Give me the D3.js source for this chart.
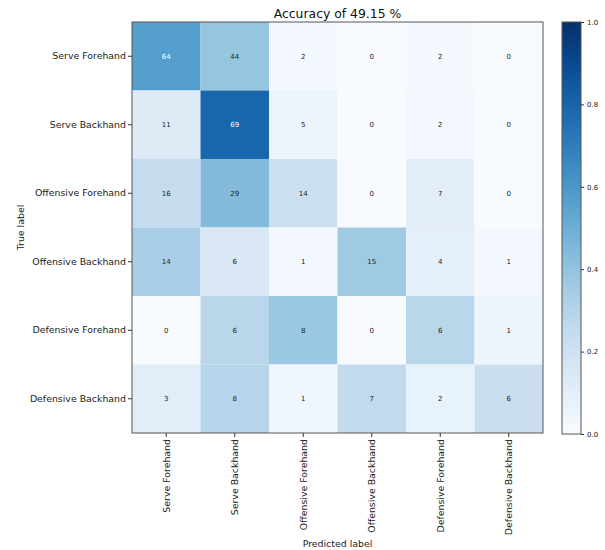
<!DOCTYPE html>
<html>
<head>
<meta charset="utf-8">
<script src="https://cdn.jsdelivr.net/npm/d3@7"></script>
<style>
  body { margin: 0; background: #fff; }
  text { font-family: 'DejaVu Sans', sans-serif; }
</style>
</head>
<body>
<script>
// class names, same for rows (true) and columns (predicted)
var classes = ['Serve Forehand', 'Serve Backhand', 'Offensive Forehand',
               'Offensive Backhand', 'Defensive Forehand', 'Defensive Backhand'];

// confusion matrix counts, one array per true label
var rowServeFh  = [64, 44, 2, 0, 2, 0];
var rowServeBh  = [11, 69, 5, 0, 2, 0];
var rowOffFh    = [16, 29, 14, 0, 7, 0];
var rowOffBh    = [14, 6, 1, 15, 4, 1];
var rowDefFh    = [0, 6, 8, 0, 6, 1];
var rowDefBh    = [3, 8, 1, 7, 2, 6];
var counts = [rowServeFh, rowServeBh, rowOffFh, rowOffBh, rowDefFh, rowDefBh];

var colorbarTicks = [0, 0.2, 0.4, 0.6, 0.8, 1.0];

var width = 605, height = 550;
var margin = {left: 132, top: 22, right: 62, bottom: 117};
var size = 411;

var svg = d3.select('body').append('svg')
    .attr('width', width)
    .attr('height', height);

// accuracy from the diagonal
var total = d3.sum(counts, function(r) { return d3.sum(r); });
var diag = d3.sum(counts, function(r, i) { return r[i]; });
var acc = (100 * diag / total).toFixed(2);

// flatten into cells, normalised per row
var cells = [];
counts.forEach(function(r, i) {
    var s = d3.sum(r);
    r.forEach(function(v, j) {
        cells.push({row: i, col: j, value: v, norm: v / s});
    });
});

var x = d3.scaleBand().domain(d3.range(classes.length)).range([0, size]);
var y = d3.scaleBand().domain(d3.range(classes.length)).range([0, size]);
var color = d3.scaleSequential(d3.interpolateBlues).domain([0, 1]);

var focus = svg.append('g')
    .attr('transform', 'translate(' + margin.left + ',' + margin.top + ')');

focus.selectAll('rect.cell')
    .data(cells)
    .enter().append('rect')
    .attr('class', 'cell')
    .attr('x', function(d) { return x(d.col); })
    .attr('y', function(d) { return y(d.row); })
    .attr('width', x.bandwidth())
    .attr('height', y.bandwidth())
    .attr('fill', function(d) { return color(d.norm); });

focus.selectAll('text.val')
    .data(cells)
    .enter().append('text')
    .attr('class', 'val')
    .attr('x', function(d) { return x(d.col) + x.bandwidth() / 2; })
    .attr('y', function(d) { return y(d.row) + y.bandwidth() / 2; })
    .attr('dy', '.35em')
    .attr('text-anchor', 'middle')
    .attr('font-size', 7)
    .attr('fill', function(d) { return d.norm > 0.5 ? '#fff' : '#222'; })
    .text(function(d) { return d.value; });

// frame
focus.append('rect')
    .attr('width', size).attr('height', size)
    .attr('fill', 'none')
    .attr('stroke', '#555')
    .attr('stroke-width', 1);

var xAxis = d3.axisBottom(x).tickSize(4).tickFormat(function(i) { return classes[i]; });
var yAxis = d3.axisLeft(y).tickSize(4).tickFormat(function(i) { return classes[i]; });

var gx = focus.append('g')
    .attr('transform', 'translate(0,' + size + ')')
    .call(xAxis);
gx.select('.domain').remove();
gx.selectAll('line').attr('stroke', '#333');
gx.selectAll('text')
    .attr('font-size', 9.4)
    .attr('fill', '#222')
    .attr('text-anchor', 'end')
    .attr('transform', 'rotate(-90)')
    .attr('x', -6)
    .attr('y', 0)
    .attr('dy', '.35em');

var gy = focus.append('g').call(yAxis);
gy.select('.domain').remove();
gy.selectAll('line').attr('stroke', '#333');
gy.selectAll('text')
    .attr('font-size', 9.4)
    .attr('fill', '#222')
    .attr('x', -6);

svg.append('text')
    .attr('x', margin.left + size / 2)
    .attr('y', 18)
    .attr('text-anchor', 'middle')
    .attr('font-size', 12.4)
    .attr('fill', '#111')
    .text('Accuracy of ' + acc + ' %');

svg.append('text')
    .attr('text-anchor', 'middle')
    .attr('transform', 'translate(24,' + (margin.top + size / 2) + ')rotate(-90)')
    .attr('font-size', 9.4)
    .attr('fill', '#222')
    .text('True label');

svg.append('text')
    .attr('x', margin.left + size / 2)
    .attr('y', 547)
    .attr('text-anchor', 'middle')
    .attr('font-size', 9.4)
    .attr('fill', '#222')
    .text('Predicted label');

// colorbar
var cbX = 562, cbW = 19, cbTop = 22, cbH = 412;
var cy = d3.scaleLinear().domain([0, 1]).range([cbTop + cbH, cbTop]);

var grad = svg.append('defs').append('linearGradient')
    .attr('id', 'cbgrad')
    .attr('x1', 0).attr('y1', 1).attr('x2', 0).attr('y2', 0);
grad.selectAll('stop')
    .data(d3.range(0, 1.0001, 0.05))
    .enter().append('stop')
    .attr('offset', function(d) { return d; })
    .attr('stop-color', function(d) { return color(d); });

svg.append('rect')
    .attr('x', cbX).attr('y', cbTop)
    .attr('width', cbW).attr('height', cbH)
    .attr('fill', 'url(#cbgrad)')
    .attr('stroke', '#555');

var gc = svg.append('g')
    .attr('transform', 'translate(' + (cbX + cbW) + ',0)')
    .call(d3.axisRight(cy).tickValues(colorbarTicks).tickSize(3).tickFormat(d3.format('.1f')));
gc.select('.domain').remove();
gc.selectAll('line').attr('stroke', '#333');
gc.selectAll('text').attr('font-size', 7).attr('fill', '#222');
</script>
</body>
</html>
